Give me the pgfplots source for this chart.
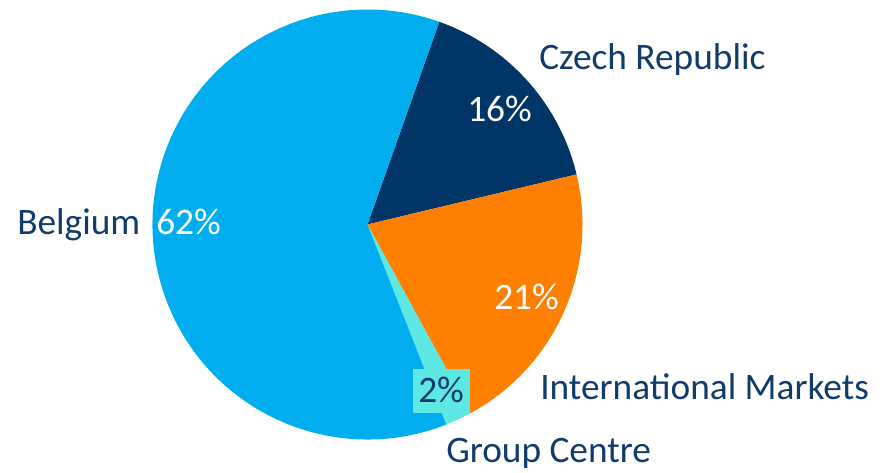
\documentclass[border=0pt]{standalone}
\usepackage{fontspec}
\setmainfont{Carlito}
\usepackage{pgfplots}
\usepackage{pgfplotstable}
\pgfplotsset{compat=1.18}

\definecolor{belgium}{RGB}{0,174,239}
\definecolor{czech}{RGB}{0,54,103}
\definecolor{intl}{RGB}{255,128,0}
\definecolor{group}{RGB}{94,232,228}
\definecolor{txt}{RGB}{17,59,106}

% shares in percent, clockwise from the Belgium/Czech border
\pgfplotstableread{
name    share
Czech   16
Intl    21
Group   2
Belgium 62
}\piedata

\begin{document}
\begin{tikzpicture}
\pgfplotstablegetelem{0}{share}\of\piedata\edef\sCz{\pgfplotsretval}
\pgfplotstablegetelem{1}{share}\of\piedata\edef\sIn{\pgfplotsretval}
\pgfplotstablegetelem{2}{share}\of\piedata\edef\sGr{\pgfplotsretval}
\pgfplotstablegetelem{3}{share}\of\piedata\edef\sBe{\pgfplotsretval}
\pgfmathsetmacro\tot{\sCz+\sIn+\sGr+\sBe}
\pgfmathsetmacro\aA{70.5}
\pgfmathsetmacro\aB{\aA-360*\sCz/\tot}
\pgfmathsetmacro\aC{\aB-360*\sIn/\tot}
\pgfmathsetmacro\aD{\aC-360*\sGr/\tot}
\pgfmathsetmacro\aE{\aA-360}
\def\R{161.25pt}
\begin{axis}[
    hide axis,
    x=0.75pt, y=0.75pt,
    xmin=0, xmax=893, ymin=0, ymax=473,
    clip=false,
]
\path (axis cs:0,0) rectangle (axis cs:893,473);
\fill[czech]   (axis cs:367.5,248.5) -- ++(\aA:\R) arc[start angle=\aA, end angle=\aB, radius=\R] -- cycle;
\fill[intl]    (axis cs:367.5,248.5) -- ++(\aB:\R) arc[start angle=\aB, end angle=\aC, radius=\R] -- cycle;
\fill[group]   (axis cs:367.5,248.5) -- ++(\aC:\R) arc[start angle=\aC, end angle=\aD, radius=\R] -- cycle;
\fill[belgium] (axis cs:367.5,248.5) -- ++(\aD:\R) arc[start angle=\aD, end angle=\aE, radius=\R] -- cycle;

\begin{scope}[every node/.style={font=\fontsize{28}{33}\selectfont, inner sep=0pt, anchor=base west}]
\node[text=txt]   at (axis cs:539,403) {Czech Republic};
\node[text=white] at (axis cs:467,351) {16\%};
\node[text=txt]   at (axis cs:17,238) {Belgium};
\node[text=white] at (axis cs:156,238) {62\%};
\node[text=white] at (axis cs:494,163) {21\%};
\node[text=txt]   at (axis cs:540,73) {International Markets};
\fill[group] (axis cs:413,60) rectangle (axis cs:470,104);
\node[text=txt]   at (axis cs:418,70) {2\%};
\node[text=txt]   at (axis cs:446,10) {Group Centre};
\end{scope}
\end{axis}
\end{tikzpicture}
\end{document}
